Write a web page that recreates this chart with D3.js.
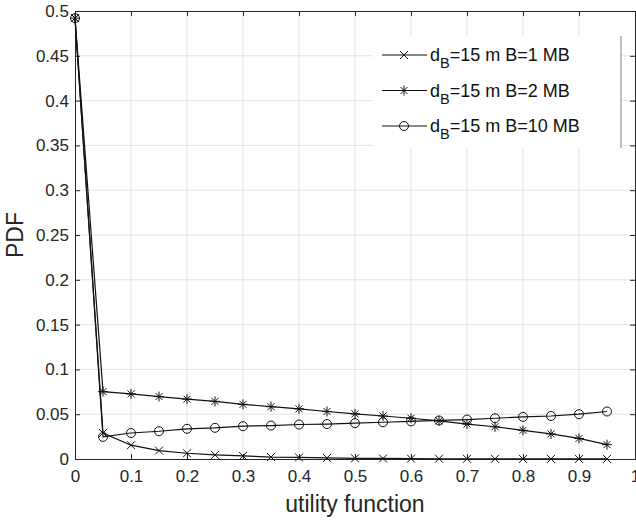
<!DOCTYPE html>
<html>
<head>
<meta charset="utf-8">
<script src="https://cdn.jsdelivr.net/npm/d3@7"></script>
<style>
  body { margin: 0; background: #fff; }
  svg { font-family: "Liberation Sans", Arial, sans-serif; }
</style>
</head>
<body>
<svg id="chart" width="636" height="520"></svg>
<script>
// data
const xValues = [0, 0.05, 0.1, 0.15, 0.2, 0.25, 0.3, 0.35, 0.4, 0.45, 0.5, 0.55, 0.6, 0.65, 0.7, 0.75, 0.8, 0.85, 0.9, 0.95];
const seriesB1 = [0.492, 0.029, 0.0154, 0.0094, 0.0064, 0.0046, 0.0034, 0.0022, 0.0018, 0.0012, 0.0008, 0.0006, 0.0004, 0.0003, 0.0002, 0.0002, 0.0001, 0.0001, 0.0001, 0.0001];
const seriesB2 = [0.492, 0.0752, 0.0727, 0.0697, 0.0668, 0.0643, 0.061, 0.0584, 0.056, 0.053, 0.0504, 0.048, 0.0455, 0.0426, 0.039, 0.036, 0.032, 0.028, 0.023, 0.016];
const seriesB10 = [0.492, 0.0247, 0.029, 0.031, 0.0337, 0.0348, 0.0366, 0.0373, 0.0385, 0.039, 0.040, 0.041, 0.042, 0.043, 0.044, 0.0455, 0.047, 0.048, 0.050, 0.053];
const seriesNames = ["=15 m B=1 MB", "=15 m B=2 MB", "=15 m B=10 MB"];
const markers = ["x", "star", "circle"];
const xTicks = d3.range(0, 1.0001, 0.1);
const yTicks = d3.range(0, 0.5001, 0.05);

const svg = d3.select("#chart");
const margin = {top: 11, right: 1, bottom: 61, left: 75};
const width = 636 - margin.left - margin.right,
      height = 520 - margin.top - margin.bottom;
const g = svg.append("g").attr("transform", `translate(${margin.left},${margin.top})`);

const x = d3.scaleLinear().domain([0, 1]).range([0, width]);
const y = d3.scaleLinear().domain([0, 0.5]).range([height, 0]);

// grid
g.append("g").selectAll("line").data(xTicks.slice(1, -1)).join("line")
  .attr("x1", d => x(d)).attr("x2", d => x(d)).attr("y1", 0).attr("y2", height)
  .attr("stroke", "#e3e3e3").attr("stroke-width", 1);
g.append("g").selectAll("line").data(yTicks.slice(1, -1)).join("line")
  .attr("y1", d => y(d)).attr("y2", d => y(d)).attr("x1", 0).attr("x2", width)
  .attr("stroke", "#e3e3e3").attr("stroke-width", 1);

// axes (ticks inside, box all around)
const fmt = d => d3.format("~g")(+d.toFixed(2));
g.append("g").attr("transform", `translate(0,${height})`)
  .call(d3.axisBottom(x).tickValues(xTicks).tickFormat(fmt).tickSizeInner(-5).tickSizeOuter(0).tickPadding(11));
g.append("g")
  .call(d3.axisLeft(y).tickValues(yTicks).tickFormat(fmt).tickSizeInner(-5).tickSizeOuter(0).tickPadding(6));
g.append("g").call(d3.axisTop(x).tickValues(xTicks).tickFormat("").tickSizeInner(-5).tickSizeOuter(0));
g.append("g").attr("transform", `translate(${width},0)`)
  .call(d3.axisRight(y).tickValues(yTicks).tickFormat("").tickSizeInner(-5).tickSizeOuter(0));
g.selectAll(".domain").attr("stroke", "#262626");
g.selectAll(".tick line").attr("stroke", "#262626");
g.selectAll(".tick text").attr("fill", "#262626").style("font-size", "17px");

// lines and markers
const allSeries = [seriesB1, seriesB2, seriesB10];
const line = d3.line().x((d, i) => x(xValues[i])).y(d => y(d));

function drawMarker(sel, type, cx, cy) {
  const s = 4;
  if (type === "x") {
    sel.append("path").attr("d", `M${cx - s},${cy - s}L${cx + s},${cy + s}M${cx - s},${cy + s}L${cx + s},${cy - s}`)
      .attr("stroke", "#111").attr("fill", "none");
  } else if (type === "star") {
    const r = 5;
    sel.append("path").attr("d",
      `M${cx - r},${cy}L${cx + r},${cy}M${cx},${cy - r}L${cx},${cy + r}` +
      `M${cx - r * 0.7},${cy - r * 0.7}L${cx + r * 0.7},${cy + r * 0.7}M${cx - r * 0.7},${cy + r * 0.7}L${cx + r * 0.7},${cy - r * 0.7}`)
      .attr("stroke", "#111").attr("fill", "none");
  } else {
    sel.append("circle").attr("cx", cx).attr("cy", cy).attr("r", 4.5)
      .attr("stroke", "#111").attr("fill", "none");
  }
}

allSeries.forEach((vals, k) => {
  g.append("path").datum(vals).attr("d", line)
    .attr("fill", "none").attr("stroke", "#111").attr("stroke-width", 1.2);
  const mg = g.append("g");
  vals.forEach((v, i) => drawMarker(mg, markers[k], x(xValues[i]), y(v)));
});

// legend
const leg = svg.append("g").attr("transform", "translate(373,36)");
leg.append("rect").attr("width", 248).attr("height", 112).attr("fill", "#fff");
leg.append("line").attr("x1", 248).attr("x2", 248).attr("y1", 0).attr("y2", 112)
  .attr("stroke", "#7f7f7f").attr("stroke-width", 1);
seriesNames.forEach((name, i) => {
  const yy = 19 + i * 35.5;
  const row = leg.append("g");
  row.append("line").attr("x1", 9).attr("x2", 54).attr("y1", yy).attr("y2", yy)
    .attr("stroke", "#111").attr("stroke-width", 1.2);
  drawMarker(row, markers[i], 31, yy);
  const t = row.append("text").attr("x", 57).attr("y", yy + 6).attr("fill", "#111").style("font-size", "18px");
  t.append("tspan").text("d");
  t.append("tspan").text("B").attr("dy", 7).style("font-size", "14.5px");
  t.append("tspan").text(name).attr("dy", -7);
});

// axis titles
svg.append("text").attr("x", margin.left + width / 2).attr("y", 512)
  .attr("text-anchor", "middle").attr("fill", "#262626").style("font-size", "23px")
  .text("utility function");
svg.append("text").attr("transform", `translate(23,${margin.top + height / 2}) rotate(-90)`)
  .attr("text-anchor", "middle").attr("fill", "#262626").style("font-size", "23px")
  .text("PDF");
</script>
</body>
</html>
